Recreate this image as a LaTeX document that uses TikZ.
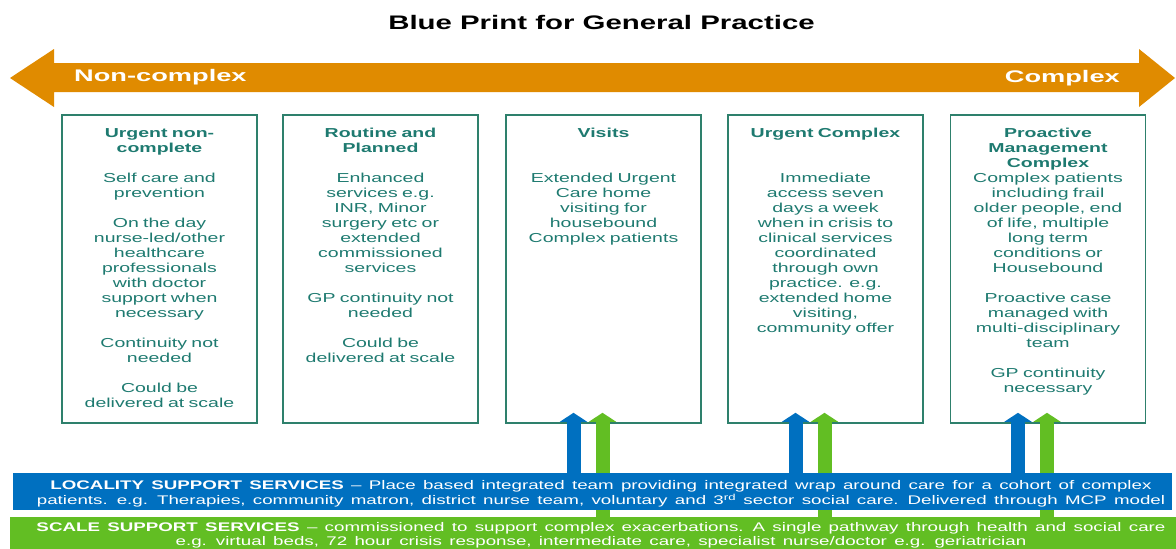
\documentclass[tikz,border=0pt]{standalone}
\usepackage{fontspec}
\setmainfont{Liberation Sans}[FakeStretch=1.5]
\newfontfamily\widefont{Liberation Sans}[FakeStretch=1.62]
\newfontfamily\boxfont{Liberation Sans}[FakeStretch=1.5, WordSpace=1.3]
\newfontfamily\barfont{Liberation Sans}[FakeStretch=1.5, WordSpace=1.4]
\usetikzlibrary{arrows.meta}
\definecolor{orangeA}{RGB}{224,139,0}
\definecolor{tealB}{RGB}{46,128,108}
\definecolor{tealT}{RGB}{30,122,112}
\definecolor{blueL}{RGB}{0,112,192}
\definecolor{greenS}{RGB}{98,190,35}
\newcommand\bxtitle[1]{{\fontsize{13}{15}\selectfont\bfseries\strut #1}}
\pgfdeclarelayer{back}
\pgfsetlayers{back,main}
\begin{document}
\begin{tikzpicture}[x=1pt,y=-1pt,
  box/.style={draw=tealB, line width=1.6pt, minimum width=195pt, minimum height=308pt, inner sep=0},
  btext/.style={anchor=north, inner sep=0, text width=193pt, align=center, text=tealT, font=\boxfont\fontsize{13}{15}\selectfont},
  bartext/.style={anchor=north, inner sep=0, align=center, text=white, font=\barfont\fontsize{12.5}{14}\selectfont},
  barrow/.style={draw=blueL, line width=14pt, -{Triangle[width=27pt,length=9pt]}},
  garrow/.style={draw=greenS, line width=14pt, -{Triangle[width=27pt,length=9pt]}},
  arrowlabel/.style={inner sep=0, text=white, font=\widefont\fontsize{16.8}{18}\selectfont\bfseries}
]
\useasboundingbox (0,0) rectangle (1176,549);

% title
\node[anchor=base, inner sep=0, font=\fontsize{19.6}{24}\selectfont\bfseries] (title) at (601.5,29) {Blue Print for General Practice};

% orange double arrow
\fill[orangeA] (10,78) -- (54,49) -- (54,63) -- (1139,63) -- (1139,49) -- (1175,78) -- (1139,107) -- (1139,92) -- (54,92) -- (54,107) -- cycle;
\node[arrowlabel, anchor=base west] (noncx) at (74,81) {Non-complex};
\node[arrowlabel, anchor=base east] (cx) at (1120,82) {Complex};

% boxes
\begin{pgfonlayer}{back}
\node[box] (box1) at (159.5,269) {};
\node[box] (box2) at (380.5,269) {};
\node[box] (box3) at (603.5,269) {};
\node[box] (box4) at (825.5,269) {};
\node[box] (box5) at (1048,269) {};
\end{pgfonlayer}

\node[btext] (t1) at ([yshift=-13pt]box1.north) {\bxtitle{Urgent non-\\complete}\\[15pt]
Self care and\\prevention\\[15pt]
On the day\\nurse-led/other\\healthcare\\professionals\\with doctor\\support when\\necessary\\[15pt]
Continuity not\\needed\\[15pt]
Could be\\delivered at scale};

\node[btext] (t2) at ([yshift=-13pt]box2.north) {\bxtitle{Routine and\\Planned}\\[15pt]
Enhanced\\services e.g.\\INR, Minor\\surgery etc or\\extended\\commissioned\\services\\[15pt]
GP continuity not\\needed\\[15pt]
Could be\\delivered at scale};

\node[btext] (t3) at ([yshift=-13pt]box3.north) {\bxtitle{Visits}\\[30pt]
Extended Urgent\\Care home\\visiting for\\housebound\\Complex patients};

\node[btext] (t4) at ([yshift=-13pt]box4.north) {\bxtitle{Urgent Complex}\\[30pt]
Immediate\\access seven\\days a week\\when in crisis to\\clinical services\\coordinated\\through own\\practice. e.g.\\extended home\\visiting,\\community offer};

\node[btext] (t5) at ([yshift=-13pt]box5.north) {\bxtitle{Proactive\\Management\\Complex}\\
Complex patients\\including frail\\older people, end\\of life, multiple\\long term\\conditions or\\Housebound\\[15pt]
Proactive case\\managed with\\multi-disciplinary\\team\\[15pt]
GP continuity\\necessary};

% bars
\node[fill=blueL, minimum width=1159pt, minimum height=37pt, inner sep=0, anchor=north west] (lbar) at (13,473) {};
\node[fill=greenS, minimum width=1166pt, minimum height=33pt, inner sep=0, anchor=north west] (sbar) at (10,517) {};

% arrow end points
\coordinate (b3b) at ([xshift=-30pt,yshift=11pt]box3.south);
\coordinate (b3g) at ([xshift=-1pt,yshift=11pt]box3.south);
\coordinate (b4b) at ([xshift=-30pt,yshift=11pt]box4.south);
\coordinate (b4g) at ([xshift=-1pt,yshift=11pt]box4.south);
\coordinate (b5b) at ([xshift=-30pt,yshift=11pt]box5.south);
\coordinate (b5g) at ([xshift=-1pt,yshift=11pt]box5.south);

\begin{pgfonlayer}{back}
\draw[garrow] (sbar.north -| b3g) -- (b3g);
\draw[garrow] (sbar.north -| b4g) -- (b4g);
\draw[garrow] (sbar.north -| b5g) -- (b5g);
\end{pgfonlayer}
\draw[barrow] (lbar.north -| b3b) -- (b3b);
\draw[barrow] (lbar.north -| b4b) -- (b4b);
\draw[barrow] (lbar.north -| b5b) -- (b5b);

% bar texts
\node[bartext] (ltext) at (601,479) {\strut\textbf{LOCALITY SUPPORT SERVICES} \textendash{} Place based integrated team providing integrated wrap around care for a cohort of complex\\patients. e.g. Therapies, community matron, district nurse team, voluntary and 3\textsuperscript{rd} sector social care. Delivered through MCP model};
\node[bartext] (stext) at (601,521) {\strut\textbf{SCALE SUPPORT SERVICES} \textendash{} commissioned to support complex exacerbations. A single pathway through health and social care\\e.g. virtual beds, 72 hour crisis response, intermediate care, specialist nurse/doctor e.g. geriatrician};
\end{tikzpicture}
\end{document}
